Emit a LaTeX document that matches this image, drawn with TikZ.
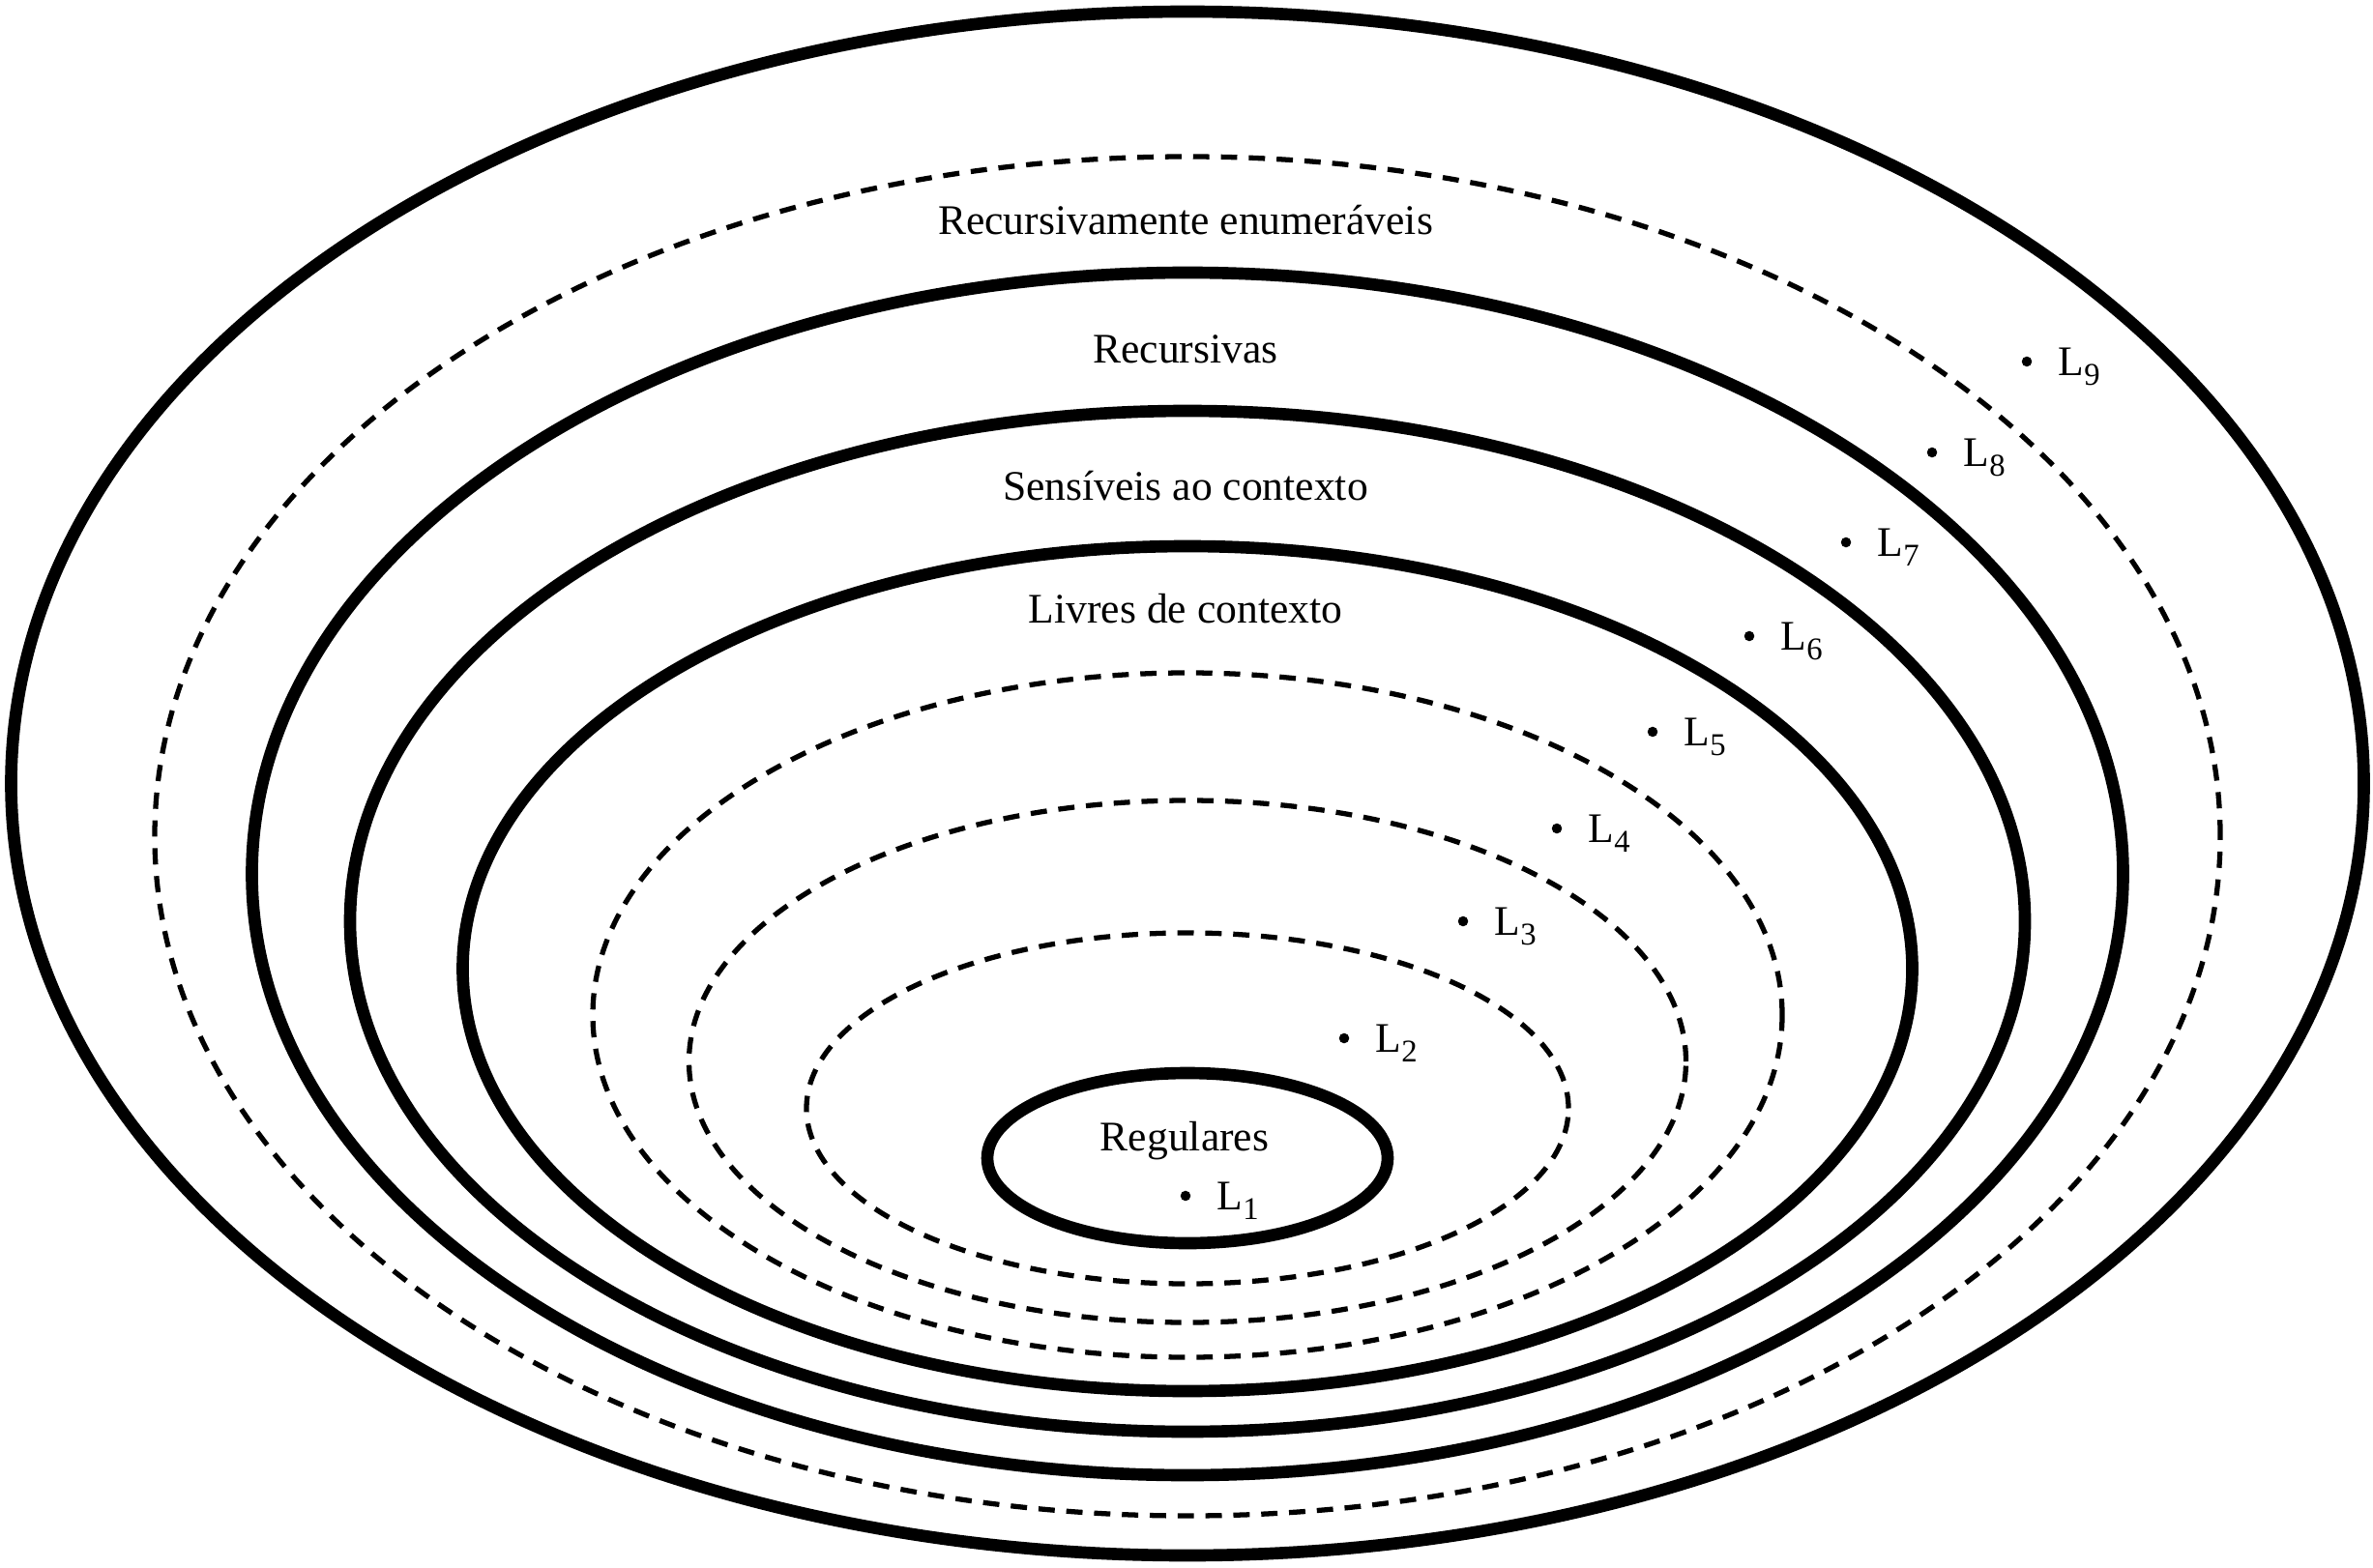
\documentclass[tikz,border=0pt]{standalone}
\usepackage{fontspec}
\setmainfont{Liberation Serif}
\usepackage{tikz}
\usetikzlibrary{calc}
\newcommand{\lng}[1]{L\raisebox{-2.8pt}{\fontsize{9.3}{10}\selectfont #1}}

\begin{document}
\begin{tikzpicture}[
    solida/.style={line width=3.6pt},
    tracejada/.style={line width=1.5pt, dash pattern=on 4.8pt off 3.4pt},
    classe/.style={font=\fontsize{12.4}{15}\selectfont, anchor=base, inner sep=0pt},
    rotulo/.style={font=\fontsize{12.4}{15}\selectfont, anchor=base west, inner sep=0pt}]
    \useasboundingbox (0,0) rectangle (24.54,16.21);

    % elipses, de fora para dentro
    \draw[solida]    (12.28,8.105) ellipse (12.165 and 7.985);
    \draw[tracejada] (12.28,7.56)  ellipse (10.68 and 7.03);
    \draw[solida]    (12.28,7.17)  ellipse (9.675 and 6.22);
    \draw[solida]    (12.28,6.68)  ellipse (8.66 and 5.28);
    \draw[solida]    (12.28,6.19)  ellipse (7.495 and 4.37);
    \draw[tracejada] (12.28,5.71)  ellipse (6.15 and 3.54);
    \draw[tracejada] (12.28,5.23)  ellipse (5.155 and 2.70);
    \draw[tracejada] (12.28,4.745) ellipse (3.94 and 1.815);
    \draw[solida]    (12.28,4.23)  ellipse (2.07 and 0.88);

    % nomes das classes
    \node[classe] (recenum) at (12.26,13.78) {Recursivamente enumeráveis};
    \node[classe] (recurs)  at (12.26,12.46) {Recursivas};
    \node[classe] (sensiv)  at (12.26,11.04) {Sensíveis ao contexto};
    \node[classe] (livres)  at (12.26,9.77)  {Livres de contexto};
    \node[classe] (regul)   at (12.25,4.31)  {Regulares};

    % linguagens L1 ... L9
    \coordinate (p1) at (12.26,3.84);
    \coordinate (p2) at (13.90,5.47);
    \coordinate (p3) at (15.13,6.68);
    \coordinate (p4) at (16.10,7.64);
    \coordinate (p5) at (17.09,8.64);
    \coordinate (p6) at (18.09,9.63);
    \coordinate (p7) at (19.09,10.60);
    \coordinate (p8) at (19.98,11.53);
    \coordinate (p9) at (20.96,12.47);
    \fill (p1) circle (1.5pt) (p2) circle (1.5pt) (p3) circle (1.5pt)
          (p4) circle (1.5pt) (p5) circle (1.5pt) (p6) circle (1.5pt)
          (p7) circle (1.5pt) (p8) circle (1.5pt) (p9) circle (1.5pt);
    \node[rotulo] (l1) at ($(p1)+(0.32,-0.145)$) {\lng{1}};
    \node[rotulo] (l2) at ($(p2)+(0.32,-0.145)$) {\lng{2}};
    \node[rotulo] (l3) at ($(p3)+(0.32,-0.145)$) {\lng{3}};
    \node[rotulo] (l4) at ($(p4)+(0.32,-0.145)$) {\lng{4}};
    \node[rotulo] (l5) at ($(p5)+(0.32,-0.145)$) {\lng{5}};
    \node[rotulo] (l6) at ($(p6)+(0.32,-0.145)$) {\lng{6}};
    \node[rotulo] (l7) at ($(p7)+(0.32,-0.145)$) {\lng{7}};
    \node[rotulo] (l8) at ($(p8)+(0.32,-0.145)$) {\lng{8}};
    \node[rotulo] (l9) at ($(p9)+(0.32,-0.145)$) {\lng{9}};
\end{tikzpicture}
\end{document}
